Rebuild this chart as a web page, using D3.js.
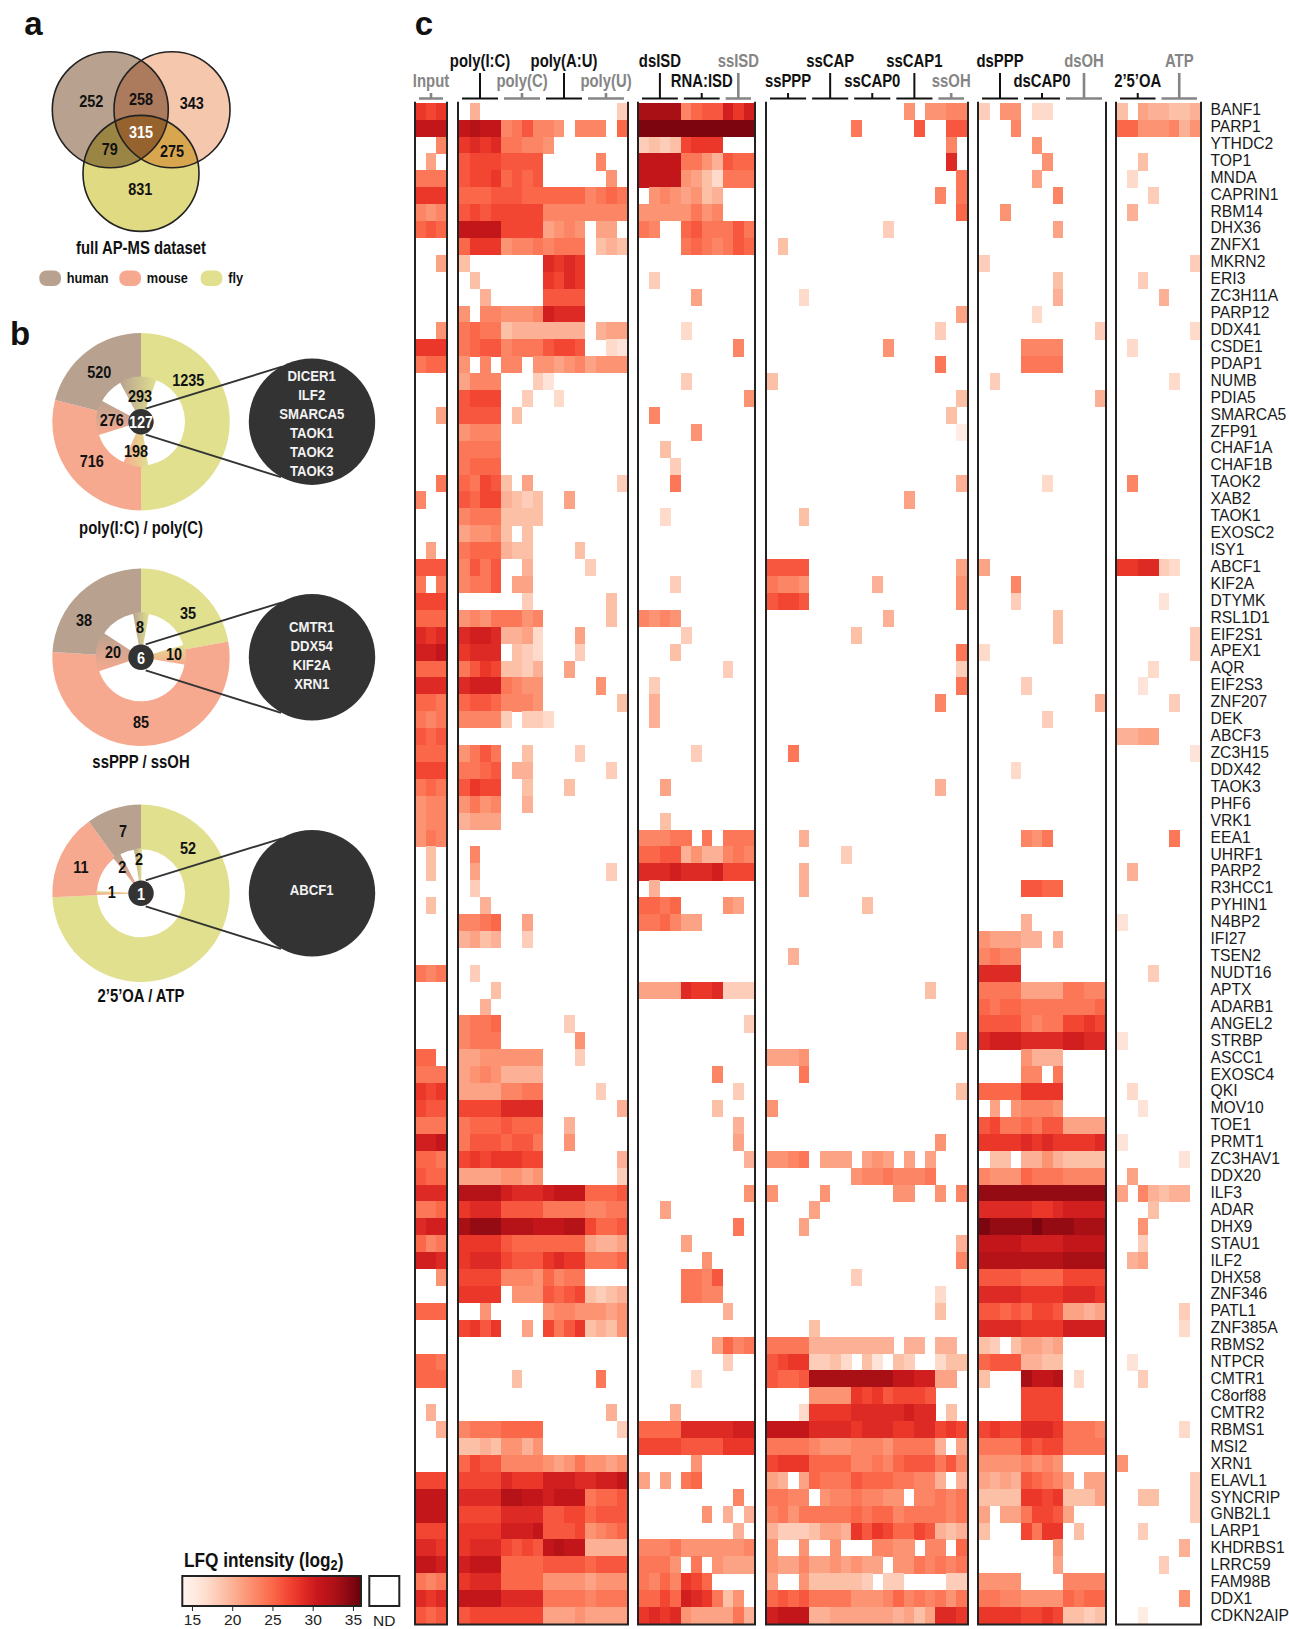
<!DOCTYPE html>
<html>
<head>
<meta charset="utf-8">
<style>
    html, body { margin: 0; background: #fff; }
    text { font-family: "Liberation Sans", Arial, sans-serif; }
</style>
<script src="https://cdn.jsdelivr.net/npm/d3@7"></script>
</head>
<body>
<div id="chart"></div>
<script>
const proteins = [
    "BANF1","PARP1","YTHDC2","TOP1","MNDA","CAPRIN1","RBM14","DHX36","ZNFX1","MKRN2",
    "ERI3","ZC3H11A","PARP12","DDX41","CSDE1","PDAP1","NUMB","PDIA5","SMARCA5","ZFP91",
    "CHAF1A","CHAF1B","TAOK2","XAB2","TAOK1","EXOSC2","ISY1","ABCF1","KIF2A","DTYMK",
    "RSL1D1","EIF2S1","APEX1","AQR","EIF2S3","ZNF207","DEK","ABCF3","ZC3H15","DDX42",
    "TAOK3","PHF6","VRK1","EEA1","UHRF1","PARP2","R3HCC1","PYHIN1","N4BP2","IFI27",
    "TSEN2","NUDT16","APTX","ADARB1","ANGEL2","STRBP","ASCC1","EXOSC4","QKI","MOV10",
    "TOE1","PRMT1","ZC3HAV1","DDX20","ILF3","ADAR","DHX9","STAU1","ILF2","DHX58",
    "ZNF346","PATL1","ZNF385A","RBMS2","NTPCR","CMTR1","C8orf88","CMTR2","RBMS1","MSI2",
    "XRN1","ELAVL1","SYNCRIP","GNB2L1","LARP1","KHDRBS1","LRRC59","FAM98B","DDX1","CDKN2AIP"
];

// LFQ intensity per protein, one letter per replicate: a = 15, b = 16 ... u = 35, dot = not detected
const inputRows = [
    "nmn","qqq","..i",".g.","jjj","nnn","ihi","klk","","..g",
    "","","","..h","nnn","jkk","","","..g","",
    "","","..j","i","","",".g","lll","j.j","mmm",
    "kkk","ono","ppq","kkk","ooo","kkj","jij","lkl","kkk","mmm",
    "jkj","hii","hii","hji",".e",".e","",".e","","",
    "","jij","","","","","kk","jjj","nmn","mll",
    "jjj","ppq","kkj","lkk","ooo","jjk","opp","kij","ppo","..h",
    "","kkk","","","kkj","kkk","",".f","..f","",
    "","mmm","qqq","qqq","mmm","oon","qqp","jij","ono","lkl"
];
const polyRows = [
    ".f.. .... .... ...d","qrqq ijli ih.i ii.k","nono jjii h","lmmm llll .... .i..","lmmn klkl .... ..h.",
    "kkkl llkk kkkk ijkj","lmlm mmmm iiii iiii","qqqq mmmm ghih .gg.","knnn hiij ijjj .efe","e... .... onon",
    ".e.. .... nmon","..f. .... llll","h.ii hhhi pooo","jkjj efff ffff .fgg","jkll ijjj lmml ..cb",
    "h.i. ii.h hghi ghhh","giii ...d b","lmmm ..d. .c","llll .e","hiii",
    "jjjj","jkkk","kjml e.g. .... ...d","lkmm fede ..g.","ijjj eeee",
    "ghhi e.e.","jkkk fee. ...e","iljl ..f. .... d","ijjl .gg.",".... ..d. .... ..e.",
    "hihj jjhi .... ..e.","oppo ffgc ...g","nooo .edc ...d","jlnm eedf ..g.","oppp jihh .... .h..",
    "kllk iiih .... ...e","iiii d.dd c","","hjlj ..e. ...d","jjkl .ff. .... ..d.",
    "lnmm ..e. ..e.","hjhi ..f.","fggg","",".i",
    ".g.. .... .... ..d.",".d","..f","iijk ..g.","fgef ..d.",
    "",".d","...e","..f","ijjk .... ..d.",
    "ijjj .... ...h","gghh hhhh ...d","ghih ffff","gggg iijj .... .d..","mmmm oooo .... ...f",
    "jkkk lkkk ..f.","jlll kllj ..h.","mnmn nnmm .... ...f","gggg hhgh .... ...d","rrrr pooo pqqq kkkl",
    "nooo llll jjjj iijj","sttt rrrq qqrr mkkl","nnnn lkkk kkkk gffg","nooo mlll nonn jjjk","mmmm iiih kijj",
    "nnnn .hhh lklm edef","..h. .... hiih hhgh","mnln ..g. mjln efeh","","",
    ".... .e.. .... .j","",".... .... .... ..f","ijjj kkkk .... ...d","eefe hhfh",
    "kmll iiii hghj hhgh","mmmm onnn pppo oppq","oooo rrqq pqqq jkkl","mmmm oooo llmm klll","nnnn pppq lllm hijk",
    "nooo mlml qrqq ffff","pqqq kkkk llll klll","nooo kkkk hhhh ghhh","qqqq oooo jjjj ijjj","lmmm mmmm gggh gggg"
];
const isdRows = [
    "ssss ikll pnp","uuuu uuuu uuu","dede mnnn","qqqq jjhf lkk","qqqq hgec jjj",
    ".hih ghef","hhhh hjhi","ji.. kljj jlj",".... jkji jlk","",
    ".d",".... .g","",".... c",".... .... .i",
    "",".... d",".... .... ..h",".i",".... .h",
    "..e","...d","...j","","..c",
    "","","","...d","",
    "ihih",".... d","...e",".... .... d",".d",
    ".f",".f","",".... .d","",
    "..g","","..e","iiij j.j. jjj","kkll fhff iji",
    "ooop ooop mmm",".f","kkjk .... hg","jjki gg","",
    "","","gggg onno ddd","",".... .... ..d",
    "","",".... ...i",".... .... .d",".... ...e",
    ".... .... .f",".... .... .g",".... .... ..f","",".... .... ..h",
    "..g",".... .... .j",".... g",".... ..h",".... jjil",
    ".... jjii",".... .... f","",".... ...g kij",".... .... d",
    ".... .c","","...f","kkkk oooo opp","mmmm llll nnn",
    ".... .h","g.g. jk",".... .... .i",".... ..h. f.f",".... .... .f",
    "iiij hhhh hhi","jjjh .j.h ggg","jiki nmk","kkmk ponj eh","nono hggg gjf"
];
const capRows = [
    ".... .... .... .h.h hii",".... .... j... ..l. .ll",".... .... .... .... .i.",".... .... .... .... .o.",".... .... .... .... ..j",
    ".... .... .... .... i.j",".... .... .... .... ..k",".... .... ...d",".e","",
    "","...c",".... .... .... .... ..g",".... .... .... .... d",".... .... ...h",
    ".... .... .... .... j","e",".... .... .... .... ..e",".... .... .... .... .e",".... .... .... .... ..a",
    "","",".... .... .... .... ..f",".... .... .... .g","...e",
    "","","llll .... .... .... ..g","jiih .... ..f. .... ..h","lmml .... .... .... ..h",
    ".... .... ...f",".... .... e",".... .... .... .... ..j",".... .... .... .... ..d",".... .... .... .... ..j",
    ".... .... .... .... i","","","..j","",
    ".... .... .... .... f","","","...f",".... ...d",
    "...f","...f",".... .... .e","","",
    "..f","",".... .... .... ...e","","",
    ".... .... .... .... ..f","gggh","...j",".... .... .... .... ..e","h",
    "",".... .... .... .... h","hhij .ggg .ghg .g.g",".... .... hiij iiij","h... .h.. .... hh.. h.i",
    ".... g","...g",".... .... .... .... ..f",".... .... .... .... ..i",".... .... d",
    ".... .... .... .... c",".... .... .... .... e",".... e","jjjj ffff ffff .ff. ff.","lmnn ddec .eb. ed.. cee",
    "lkkl ssss ssss qqpp gg.",".... hhhh nmnl mmml","...c nnnn oooo opoo .e.","qqqq oooo nooo nnoo mnm","jjjj ihhh iiih jjjj f.g",
    "mnnn kkkk iiji klll jli","gf.g kjjj lkkk jjii f.f","jjii .hii jiih h.ii jij","ijhj jjjj kjkk ijjj jij","fddd eggf nlnm kkml fef",
    "h..h ..h. ..ii hh.i i.k","hggi gghg hgg. hhji jij","g..h eeee ed.d d... .dd","klkl jjjj hhhi kiji jhj","pqqq ffgg gggg fgeg oon"
];
const dsRows = [
    "d.hh .cc","...i",".... .h",".... ..h",".... .g",
    ".... ...i","..h",".... ...g","","d",
    ".... ...e",".... ...f",".... .c",".... .... ...d",".... iiii",
    ".... jjjj",".d",".... .... ...f","","",
    "","",".... ..c","","",
    "","","g","...i","...d",
    ".... ...e",".... ...e","c","",".... d",
    ".... .... ...f",".... ..d","","","...c",
    "","","",".... ihj","",
    "",".... llkk","",".... f","hggg ff.f",
    "ijii","oooo","jjjj gggg jjii","kjkk jjjj jjjk","llll jijj mmnm",
    "oppp oooo ppoo",".... hfff",".... ii.j","kkkk nnnn",".g.h iiih",
    "lmjj kjll gggg","nnnn onon nnno",".ee. ffhf eeee","ihhh kjjj iiii","tttt tttt tttt",
    "oooo onno pppp","uttt tutt tsss","qqqq pppp qqqq","rrrr rrrr ssss","llll kkkk mmmm",
    "oooo nnnn ooon","llkl kmml ggfg","oooo nnnn pppp","ed.e ggfg","klll ffee",
    "e... sqqr .c",".... mmmm",".... mmmm","mnmm ooon jjji","jjjj mlmm jjjj",
    "hhhh ihih","gfgf lkji g.gg","eeee nnmn eeeg","g.gg jmml g","e... mjnn .e",
    ".... ...h",".... ...g","hhhh .... iiii","jjii hhhh kjkk","nnnn mmnm eede"
];
const oaRows = [
    "e.gf feef","kkhh hifh","","..e",".c",
    "...d",".f","","",".... ...d",
    "..d",".... f","",".... ...c",".c",
    "",".... .c","","","",
    "","",".i","","",
    "","","nnoo dc","",".... b",
    "",".... ...d",".... ...d","...c","..b",
    ".... .d","","ffgg",".... ...b","",
    "","","",".... .j","",
    ".f","","","b","",
    "","...d","","","",
    "b","","",".c","..b",
    "","b",".... ..b",".g","g.if eff",
    "...e","..h","..d",".fg","",
    "",".... ..d",".... ..c","",".b",
    "..d","","",".... ..c","",
    "h",".... ...d","..ee ...d",".... ...d","..d",
    ".... ..f",".... d","",".... ..h","..a"
];

const codes = "abcdefghijklmnopqrstu";
const legendTicks = [15, 20, 25, 30, 35];

const vennCounts = ["252", "258", "343", "315", "79", "275", "831"];
const speciesNames = ["human", "mouse", "fly"];
const ringValues = [[1235, 716, 520], [35, 85, 38], [52, 11, 7]];        // fly, mouse, human
const overlapValues = [[293, 198, 276], [8, 10, 20], [2, 1, 2]];         // fly+human, mouse+fly, human+mouse
const coreValues = [127, 6, 1];
const coreProteins = [
    ["DICER1", "ILF2", "SMARCA5", "TAOK1", "TAOK2", "TAOK3"],
    ["CMTR1", "DDX54", "KIF2A", "XRN1"],
    ["ABCF1"]
];
const donutTitles = ["poly(I:C) / poly(C)", "ssPPP / ssOH", "2\u20195\u2019OA / ATP"];

const panels = [
    { rows: inputRows, n: 3, x0: 415, x1: 447, cells: [416, 446],
      blocks: [{ name: "Input", size: 3, grey: true }] },
    { rows: polyRows, n: 16, x0: 458, x1: 628, cells: [459, 627],
      blocks: [{ name: "poly(I:C)", size: 4, tall: true }, { name: "poly(C)", size: 4, grey: true },
               { name: "poly(A:U)", size: 4, tall: true }, { name: "poly(U)", size: 4, grey: true }] },
    { rows: isdRows, n: 11, x0: 638, x1: 755, cells: [639, 754],
      blocks: [{ name: "dsISD", size: 4, tall: true }, { name: "RNA:ISD", size: 4 },
               { name: "ssISD", size: 3, tall: true, grey: true }] },
    { rows: capRows, n: 19, x0: 766, x1: 968, cells: [767, 967],
      blocks: [{ name: "ssPPP", size: 4 }, { name: "ssCAP", size: 4, tall: true }, { name: "ssCAP0", size: 4 },
               { name: "ssCAP1", size: 4, tall: true }, { name: "ssOH", size: 3, grey: true }] },
    { rows: dsRows, n: 12, x0: 978, x1: 1106, cells: [979, 1105],
      blocks: [{ name: "dsPPP", size: 4, tall: true }, { name: "dsCAP0", size: 4 },
               { name: "dsOH", size: 4, tall: true, grey: true }] },
    { rows: oaRows, n: 8, x0: 1116, x1: 1201, cells: [1117, 1200],
      blocks: [{ name: "2\u20195\u2019OA", size: 4 }, { name: "ATP", size: 4, tall: true, grey: true }] }
];

const colorHuman = "#b8a28f", colorMouse = "#f7a98f", colorFly = "#e0e08f";
const ink = "#222";
const grey = "#858585";

const svg = d3.select("#chart").append("svg")
    .attr("width", 1289)
    .attr("height", 1629)
    .style("display", "block");
const defs = svg.append("defs");

// bold labels in the figure are condensed, so they get a horizontal squeeze
function label(parent, txt, x, y, size, opts = {}) {
    return parent.append("text")
        .attr("transform", `translate(${x},${y}) scale(${opts.squeeze || 0.85},1)`)
        .attr("text-anchor", opts.anchor || "middle")
        .attr("dominant-baseline", "central")
        .attr("font-size", size)
        .attr("font-weight", opts.weight || "bold")
        .attr("fill", opts.fill || "#111")
        .text(txt);
}

/* ---------- c: heatmap ---------- */
const heatTop = 102.7, heatBottom = 1624;
const y = d3.scaleBand().domain(proteins).range([heatTop, heatBottom]);
const labelY = d3.scalePoint().domain(proteins).range([109.5, 1615.5]);
const redStops = d3.schemeReds[9];
const color = d3.scaleLinear()
    .domain(redStops.map((_, i) => 13.8 + i * (36 - 13.8) / 8))
    .range(redStops);

const heat = svg.append("g");
panels.forEach(p => {
    const x = d3.scaleBand().domain(d3.range(p.n)).range(p.cells);
    const cells = [];
    p.rows.forEach((row, r) => {
        row.replace(/ /g, "").split("").forEach((c, k) => {
            if (c !== ".") cells.push({ protein: proteins[r], col: k, value: 15 + codes.indexOf(c) });
        });
    });
    heat.append("g").attr("shape-rendering", "crispEdges")
        .selectAll("rect")
        .data(cells)
        .enter()
        .append("rect")
        .attr("x", d => x(d.col))
        .attr("y", d => y(d.protein))
        .attr("width", x.bandwidth() + 0.3)
        .attr("height", y.bandwidth() + 0.3)
        .attr("fill", d => color(d.value));

    heat.append("path")
        .attr("d", `M${p.x0},${heatTop - 1}V${heatBottom + 0.5}H${p.x1}V${heatTop - 1}`)
        .attr("fill", "none")
        .attr("stroke", ink)
        .attr("stroke-width", 2);

    // sample group brackets and names
    let start = 0;
    p.blocks.forEach(b => {
        const left = x(start), right = x(start + b.size - 1) + x.bandwidth();
        const mid = (left + right) / 2;
        const stroke = b.grey ? grey : "#111";
        const w = b.grey ? 2.6 : 2;
        heat.append("path")
            .attr("d", `M${left + 3},98.5H${right - 3}M${mid},98.5V${b.tall ? 73 : 93}`)
            .attr("fill", "none")
            .attr("stroke", stroke)
            .attr("stroke-width", w);
        label(heat, b.name, mid, b.tall ? 61 : 81, 17.5, { fill: b.grey ? grey : "#111" });
        start += b.size;
    });
});

heat.append("g").selectAll("text")
    .data(proteins)
    .enter()
    .append("text")
    .attr("x", 1210.5)
    .attr("y", d => labelY(d))
    .attr("dominant-baseline", "central")
    .attr("font-size", 15.7)
    .attr("fill", "#1a1a1a")
    .text(d => d);

/* ---------- a: venn ---------- */
const venn = svg.append("g");
const circles = [
    { id: "h", cx: 110.3, cy: 109.7, fill: "#b8a28f" },
    { id: "m", cx: 172, cy: 109.7, fill: "#f5c8ae" },
    { id: "f", cx: 141, cy: 173.4, fill: "#e0da82" }
];
const vennR = 58;
circles.forEach(c => {
    defs.append("clipPath").attr("id", "clip-" + c.id)
        .append("circle").attr("cx", c.cx).attr("cy", c.cy).attr("r", vennR);
    venn.append("circle").attr("cx", c.cx).attr("cy", c.cy).attr("r", vennR).attr("fill", c.fill);
});
const [cH, cM, cF] = circles;
function lens(a, b, fill) {
    return venn.append("g").attr("clip-path", `url(#clip-${a.id})`)
        .append("circle").attr("cx", b.cx).attr("cy", b.cy).attr("r", vennR).attr("fill", fill);
}
lens(cH, cM, "#ac7b5e");
lens(cH, cF, "#9b8544");
lens(cM, cF, "#d8a64f");
venn.append("g").attr("clip-path", "url(#clip-h)")
    .append("g").attr("clip-path", "url(#clip-m)")
    .append("circle").attr("cx", cF.cx).attr("cy", cF.cy).attr("r", vennR).attr("fill", "#96622e");
venn.selectAll(".ring").data(circles).enter().append("circle")
    .attr("cx", d => d.cx).attr("cy", d => d.cy).attr("r", vennR)
    .attr("fill", "none").attr("stroke", ink).attr("stroke-width", 1.6);

const vennSpots = [[91.3, 101], [141, 99], [191.7, 103], [141, 132], [109.7, 149], [172, 151], [140.3, 189]];
vennCounts.forEach((t, i) => {
    label(venn, t, vennSpots[i][0], vennSpots[i][1], 17, { fill: t === "315" ? "#fff" : "#111" });
});
label(venn, "full AP-MS dataset", 141, 248, 17.5);

const legendSpots = [39.3, 119.3, 200.7];
[colorHuman, colorMouse, colorFly].forEach((c, i) => {
    venn.append("rect")
        .attr("x", legendSpots[i]).attr("y", 270.5)
        .attr("width", 21.7).attr("height", 15.5)
        .attr("rx", 7).attr("fill", c);
    label(venn, speciesNames[i], legendSpots[i] + 27.5, 278, 15, { anchor: "start" });
});

/* ---------- b: donuts ---------- */
const donutCentres = [421.7, 657.3, 893.3];
const wedgeScale = [1.13, 1.13, 1];
const wedgeShift = [[-4, 7, -9], [0, 7, 4], [-4, 3, 3]];
const gradients = [
    ["gr-hf", colorHuman, colorFly, 0, 1],
    ["gr-mf", colorMouse, colorFly, 0, 1],
    ["gr-hm", colorHuman, colorMouse, 0, 0],
    ["gr-fm", colorFly, colorMouse, 0, 0]
];
gradients.forEach(([id, a, b, , horizontal]) => {
    const g = defs.append("linearGradient").attr("id", id)
        .attr("x1", 0).attr("y1", 0)
        .attr("x2", horizontal ? 1 : 0).attr("y2", horizontal ? 0 : 1);
    g.append("stop").attr("offset", "0%").attr("stop-color", a);
    g.append("stop").attr("offset", "100%").attr("stop-color", b);
});
const wedgeFills = [
    ["url(#gr-hf)", "url(#gr-mf)", "url(#gr-hm)"],
    ["url(#gr-hf)", "url(#gr-fm)", "url(#gr-hm)"],
    ["url(#gr-hf)", "url(#gr-fm)", "url(#gr-hm)"]
];

const pie = d3.pie().sort(null).value(d => d);
const ringArc = d3.arc().innerRadius(44).outerRadius(88.7);
const wedgeArc = d3.arc().innerRadius(0).outerRadius(45);
const donutLabels = [
    [["1235", 188.3, 380.3], ["716", 91.7, 461.4], ["520", 99.3, 372.4], ["293", 140, 396.5], ["198", 136, 451], ["276", 111.7, 419.7]],
    [["35", 188, 612.7], ["85", 141, 721.7], ["38", 84, 620], ["8", 140, 626.7], ["10", 174, 654], ["20", 113, 652]],
    [["52", 188, 848], ["11", 81, 867.3], ["7", 123, 830.7], ["2", 139, 859], ["1", 111.7, 891.7], ["2", 122.3, 866.7]]
];

ringValues.forEach((vals, i) => {
    const cy = donutCentres[i];
    const g = svg.append("g");
    const d = g.append("g").attr("transform", `translate(141,${cy})`);
    const arcs = pie(vals);
    const total = d3.sum(vals);

    d.selectAll("path.ring")
        .data(arcs)
        .enter()
        .append("path")
        .attr("d", ringArc)
        .attr("fill", (a, k) => [colorFly, colorMouse, colorHuman][k]);

    const borders = [0, arcs[0].endAngle, arcs[1].endAngle];
    overlapValues[i].forEach((v, k) => {
        const span = v / total * 2 * Math.PI * wedgeScale[i];
        const mid = borders[k] + wedgeShift[i][k] * Math.PI / 180;
        d.append("path")
            .attr("d", wedgeArc({ startAngle: mid - span / 2, endAngle: mid + span / 2 }))
            .attr("fill", wedgeFills[i][k]);
    });

    // callout to the core protein list
    const bigX = 312, bigR = 63.2;
    g.append("path")
        .attr("d", `M145.7,${cy - 13}L${bigX - 30},${cy - 55}M145.7,${cy + 13}L${bigX - 31},${cy + 55.5}`)
        .attr("stroke", "#333").attr("stroke-width", 1.9).attr("fill", "none");
    g.append("circle").attr("cx", bigX).attr("cy", cy).attr("r", bigR).attr("fill", "#333");
    g.append("circle").attr("cx", 141).attr("cy", cy).attr("r", 12.7).attr("fill", "#333");

    donutLabels[i].forEach(([t, lx, ly]) => label(g, t, lx, ly, 17));
    label(g, coreValues[i], 141, cy + 0.7, 17, { fill: "#fff" });

    const names = coreProteins[i];
    const firstY = i === 0 ? cy - 46.3 : i === 1 ? cy - 31 : cy - 3.3;
    names.forEach((n, k) => label(g, n, 311.7, firstY + k * 19, 15.5, { fill: "#f2f2f2" }));

    label(g, donutTitles[i], 141, [527.6, 761.7, 995.7][i], 17.5);
});

/* ---------- panel letters ---------- */
label(svg, "a", 33.3, 23, 33, { squeeze: 1 });
label(svg, "b", 20, 333, 33, { squeeze: 1 });
label(svg, "c", 424, 23, 33, { squeeze: 1 });

/* ---------- colour legend ---------- */
const lx = d3.scaleLinear().domain([13.8, 36]).range([182.3, 361]);
const grad = defs.append("linearGradient").attr("id", "lfq");
d3.range(13.8, 36.01, 1.11).forEach(v => {
    grad.append("stop").attr("offset", (v - 13.8) / (36 - 13.8)).attr("stop-color", color(v));
});
const legend = svg.append("g");
legend.append("text")
    .attr("transform", "translate(184,1560) scale(0.85,1)")
    .attr("dominant-baseline", "central")
    .attr("font-size", 20.3)
    .attr("font-weight", "bold")
    .attr("fill", "#111")
    .text("LFQ intensity (log")
    .append("tspan").attr("dy", 5).attr("font-size", 15).text("2")
    .select(function () { return this.parentNode; })
    .append("tspan").attr("dy", -5).text(")");
legend.append("rect")
    .attr("x", lx.range()[0]).attr("y", 1576)
    .attr("width", lx.range()[1] - lx.range()[0]).attr("height", 30)
    .attr("fill", "url(#lfq)").attr("stroke", ink).attr("stroke-width", 2);
legend.append("rect")
    .attr("x", 369.3).attr("y", 1576).attr("width", 30).attr("height", 30)
    .attr("fill", "#fff").attr("stroke", ink).attr("stroke-width", 2);

const legendAxis = legend.append("g")
    .attr("transform", "translate(0,1607)")
    .call(d3.axisBottom(lx).tickValues(legendTicks).tickSize(4).tickPadding(3));
legendAxis.select(".domain").remove();
legendAxis.selectAll("line").attr("stroke", ink).attr("stroke-width", 1);
legendAxis.selectAll("text")
    .attr("font-size", 15.5)
    .attr("font-family", '"Liberation Sans", Arial, sans-serif')
    .attr("fill", "#222");
legend.append("text")
    .attr("x", 384.3).attr("y", 1620)
    .attr("text-anchor", "middle")
    .attr("dominant-baseline", "central")
    .attr("font-size", 15.5)
    .attr("fill", "#222")
    .text("ND");
</script>
</body>
</html>
